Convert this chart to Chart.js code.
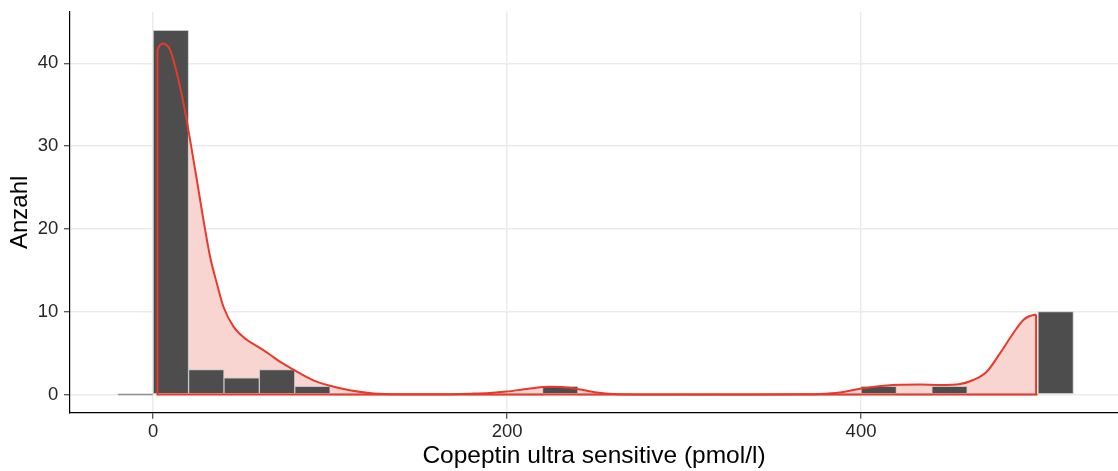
<!DOCTYPE html>
<html>
<head>
<meta charset="utf-8">
<title>Copeptin ultra sensitive</title>
<script src="https://cdn.jsdelivr.net/npm/chart.js@4/dist/chart.umd.min.js"></script>
<style>
  html, body { margin: 0; padding: 0; background: #ffffff; overflow: hidden; }
  #wrap { width: 1118px; height: 471px; position: relative; }
</style>
</head>
<body>
<div id="wrap"><canvas id="chart"></canvas></div>
<script>
// Histogram bins (left edges, width 20 pmol/l) and their counts
const binWidth = 20;
const binStarts = [-20, 0, 20, 40, 60, 80, 100, 120, 140, 160, 180, 200, 220, 240,
                   260, 280, 300, 320, 340, 360, 380, 400, 420, 440, 460, 480, 500];
const counts    = [0, 44, 3, 2, 3, 1, 0, 0, 0, 0, 0, 0, 1, 0,
                   0, 0, 0, 0, 0, 0, 0, 1, 0, 1, 0, 0, 10];

// Kernel density, scaled to counts
const densityX = [2.4, 3.5, 5.5, 9.6, 13.4, 17.1, 20.9, 24.7, 28.4, 32.2, 36, 39.7,
                  45.4, 52.9, 60.5, 66.1, 72, 79.3, 86, 92.5, 100, 111, 124.5, 140,
                  160, 180, 190, 199.8, 212, 224, 232, 239, 250.7, 260, 275, 300, 340,
                  370, 376.8, 388, 399.4, 414.5, 433.3, 444.6, 456, 463.4, 471, 478.5,
                  486, 491.7, 495, 498.9];
const densityY = [41.6, 42.1, 42.4, 41.6, 38.8, 35.2, 30.7, 25.9, 21.1, 16.6, 13.4, 10.6,
                  8.2, 6.6, 5.6, 4.8, 3.9, 3.0, 2.2, 1.55, 1.05, 0.5, 0.12, 0.02,
                  0.02, 0.1, 0.18, 0.35, 0.7, 0.92, 0.88, 0.7, 0.25, 0.06, 0.01, 0, 0,
                  0.02, 0.05, 0.24, 0.7, 1.1, 1.2, 1.15, 1.27, 1.75, 2.75, 4.97,
                  7.4, 9.0, 9.45, 9.66];

// Axis ticks
const xTicks = [0, 200, 400];
const yTicks = [0, 10, 20, 30, 40];

const FONT = '"Liberation Sans", Arial, Helvetica, sans-serif';
const RED = '#E8392B';
const PINK = '#F8D5D1';
const TICK_TEXT = '#262626';

const barData = binStarts.map((s, i) => ({ x: s + binWidth / 2, y: counts[i] }));
const curve = densityX.map((x, i) => ({ x: x, y: densityY[i] }));
const last = densityX.length - 1;
// closing edges of the density area: left side, baseline, right side
const outline = [
  { x: densityX[0], y: densityY[0] },
  { x: densityX[0], y: 0 },
  { x: densityX[last], y: 0 },
  { x: densityX[last], y: densityY[last] }
];

new Chart(document.getElementById('chart'), {
  type: 'bar',
  data: {
    datasets: [
      {
        type: 'line',
        data: curve,
        fill: 'origin',
        backgroundColor: PINK,
        borderWidth: 0,
        pointRadius: 0,
        cubicInterpolationMode: 'monotone',
        order: 3
      },
      {
        type: 'bar',
        data: barData,
        backgroundColor: '#4D4D4D',
        borderColor: '#C6C6C6',
        borderWidth: 1,
        borderSkipped: false,
        minBarLength: 2,
        barPercentage: 1,
        categoryPercentage: 1,
        order: 2
      },
      {
        type: 'line',
        data: curve,
        fill: false,
        borderColor: RED,
        borderWidth: 2,
        pointRadius: 0,
        cubicInterpolationMode: 'monotone',
        order: 1
      },
      {
        type: 'line',
        data: outline,
        fill: false,
        borderColor: RED,
        borderWidth: 2,
        pointRadius: 0,
        tension: 0,
        borderJoinStyle: 'miter',
        order: 0
      }
    ]
  },
  options: {
    responsive: true,
    maintainAspectRatio: false,
    animation: false,
    events: [],
    layout: { padding: { top: 12, right: 0, bottom: 0, left: 0 } },
    plugins: { legend: { display: false }, tooltip: { enabled: false } },
    scales: {
      x: {
        type: 'linear',
        min: -47,
        max: 545.2,
        offset: false,
        afterFit: s => { s.height = 58.3; s.paddingLeft = 0; s.paddingRight = 0; },
        afterBuildTicks: s => { s.ticks = xTicks.map(v => ({ value: v })); },
        grid: { offset: false, color: '#EBEBEB', lineWidth: 1.5, tickColor: '#333333', tickWidth: 1.1, tickLength: 6 },
        border: { display: true, color: '#000000', width: 1.2 },
        ticks: { color: TICK_TEXT, padding: 2, font: { family: FONT, size: 18.5 }, maxRotation: 0, autoSkip: false },
        title: { display: true, text: 'Copeptin ultra sensitive (pmol/l)', color: '#000000',
                 font: { family: FONT, size: 24.5 }, padding: { top: 0, bottom: 0 } }
      },
      y: {
        type: 'linear',
        min: -2.2,
        max: 46.2,
        afterFit: s => { s.width = 70; s.paddingTop = 0; s.paddingBottom = 0; },
        afterBuildTicks: s => { s.ticks = yTicks.map(v => ({ value: v })); },
        grid: { color: '#EBEBEB', lineWidth: 1.5, tickColor: '#333333', tickWidth: 1.1, tickLength: 6 },
        border: { display: true, color: '#000000', width: 1.2 },
        ticks: { color: TICK_TEXT, padding: 5.7, font: { family: FONT, size: 18.5 } },
        title: { display: true, text: 'Anzahl', color: '#000000',
                 font: { family: FONT, size: 24 }, padding: { top: 5.6, bottom: 0 } }
      }
    }
  }
});
</script>
</body>
</html>
